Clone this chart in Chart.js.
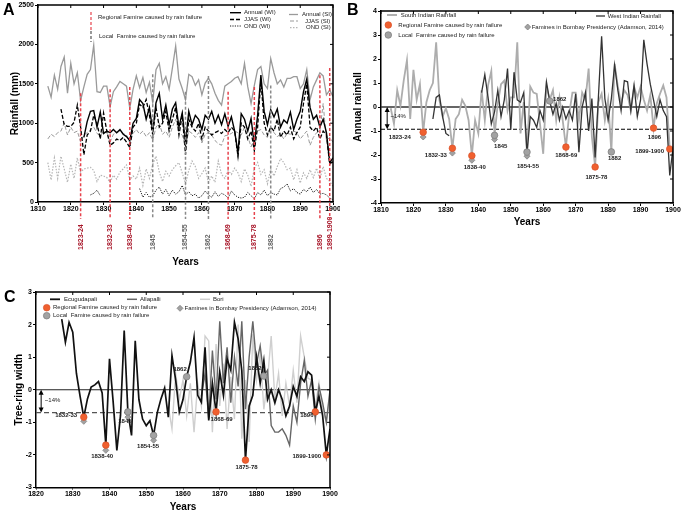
<!DOCTYPE html>
<html>
<head>
<meta charset="utf-8">
<script src="https://cdn.jsdelivr.net/npm/chart.js@4.4.0/dist/chart.umd.min.js"></script>
<style>
  html, body { margin: 0; padding: 0; background: #fff; }
  #wrap { position: relative; width: 685px; height: 514px; overflow: hidden; }
  canvas { position: absolute; }
  #cA { left: 0; top: 0; }
  #cB { left: 340px; top: 0; }
  #cC { left: 0; top: 285px; }
</style>
</head>
<body>
<div id="wrap">
  <canvas id="cA" width="340" height="285"></canvas>
  <canvas id="cB" width="345" height="285"></canvas>
  <canvas id="cC" width="345" height="229"></canvas>
</div>
<script>
// ---- Panel A: rainfall (mm), one value per year from 1813 to 1900 ----
const firstYearA = 1813;
const annualSI = [
  1470, 1330, 1610, 1430, 1720, 1840, 1380, 1760, 1500, 1640,
  1290, 1460, 1620, 1680, 1990, 1400, 1390, 1470, 1470, 1210,
  1400, 1460, 1530, 1500, 1470, 1190, 1430, 1600, 1450, 1580,
  1390, 1520, 1260, 1680, 1760, 1500, 1590, 1430, 1700, 1980,
  1560, 1440, 1300, 1620, 1590, 1480, 1550, 1360, 1510, 1570,
  1500, 1380, 1290, 1230, 1470, 1500, 1530, 1570, 1590, 1500,
  1760, 1460, 1250, 1480, 1680, 1720, 1500, 1440, 1820, 1640,
  1500, 1550, 1460, 1570, 1570, 1590, 1590, 1440, 1500, 1680,
  1300, 1460, 1550, 1640, 1600, 1360, 1420, 1340
];
const jjasSI = [
  800, 860, 830, 880, 900, 1000, 850, 950, 880, 900,
  760, 850, 880, 920, 950, 870, 840, 900, 880, 760,
  860, 880, 900, 870, 850, 750, 870, 920, 860, 900,
  830, 880, 780, 950, 1000, 860, 900, 820, 950, 1050,
  880, 850, 700, 900, 870, 820, 880, 750, 860, 880,
  850, 780, 740, 720, 840, 850, 870, 900, 880, 850,
  950, 830, 700, 820, 900, 920, 850, 820, 950, 880,
  830, 860, 800, 870, 860, 900, 880, 800, 850, 900,
  720, 820, 880, 900, 1250, 780, 820, 760
];
const ondSI = [
  500, 280, 560, 300, 580, 420, 250, 480, 300, 560,
  380, 420, 430, 440, 400, 260, 340, 330, 310, 250,
  340, 290, 380, 420, 470, 280, 330, 290, 430, 210,
  420, 300, 480, 580, 380, 260, 390, 330, 410, 460,
  500, 370, 230, 400, 520, 450, 300, 360, 430, 250,
  330, 250, 520, 350, 300, 400, 350, 430, 370, 260,
  420, 340, 200, 430, 500, 350, 410, 230, 420, 330,
  450, 550, 500, 410, 430, 280, 410, 240, 370, 300,
  410, 310, 430, 290, 450, 300, 260, 200
];
const annualWI = [
  null, null, null, null, null, null, null, null, null, null, null,
  820, 1020, 1150, 1160, 950, 1140, 870, 900, 880, 920,
  880, 920, 860, 830, 780, 1000, 1060, 1300, 1250, 1050,
  1200, 900, 1260, 1380, 1050, 1230, 980, 1180, 1260, 950,
  1130, 750, 1150, 980, 1100, 1050, 920, 1100, 1050, 1150,
  1000, 1100, 980, 1120, 960, 1080, 900, 620, 1120, 1050,
  900, 1060, 730, 1100, 1610, 1150, 980, 1170, 1080, 1180,
  950, 1040, 1000, 1140, 920, 1050, 1150, 1400, 1560, 1200,
  1050, 1100, 950, 1050, 880, 500, 560
];
const jjasWI = [
  null, null, null, null,
  1180, 980, 960, 960, 1010, 1230, 950, 600, 850, 900,
  1100, 1000, 800, 1130, 900, 720, 750, 800, 780, 820,
  760, 690, 950, 1000, 1240, 1200, 1300, 1100, 850, 1200,
  950, 1000, 1150, 900, 1050, 1200, 850, 1100, 600, 1050,
  950, 900, 1000, 800, 950, 900, 850, 880, 900, 870,
  920, 880, 950, 900, 580, 1000, 950, 800, 900, 650,
  950, 1550, 1000, 850, 950, 900, 1050, 820, 900, 850,
  950, 800, 880, 950, 1250, 1500, 950, 900, 950, 800,
  900, 850, 480, 520
];
const ondWI = [
  null, null, null, null, null, null, null, null, null, null, null, null, null,
  90, 110, 150, 80,
  null, null, null, null, null, null, null, null, null, null, null,
  170, 60, 120, 60, 80, 150, 190, 100, 160, 80,
  150, 100, 130, 210, 90, 130, 80, 100, 50, 80,
  140, 90, 60, 130, 70, 110, 90, 50, 140, 90,
  60, 50, 60, 120, 80, 40, 120, 90, 150, 80,
  120, 100, 90, 170, 190, 230, 140, 170, 120, 100,
  160, 130, 190, 120, 160, 100, 110, 90, 50, 30
];
const yearTicks = [1810, 1820, 1830, 1840, 1850, 1860, 1870, 1880, 1890, 1900];
const rainTicks = [0, 500, 1000, 1500, 2000, 2500];

// famine years marked in panel A (R = regional, L = local)
const famineYearA = [1823, 1832, 1838, 1845, 1855, 1862, 1868, 1876, 1881, 1896, 1899];
const famineTopA = [1380, 1430, 1460, 1620, 1400, 1600, 1400, 1460, 1480, 1610, 1700];
const famineKindA = ['R', 'R', 'R', 'L', 'L', 'L', 'R', 'R', 'L', 'R', 'R'];
const famineLabelA = ['1823-24', '1832-33', '1838-40', '1845', '1854-55', '1862',
  '1868-69', '1875-78', '1882', '1896', '1899-1900'];

// ---- Panel B: standardised annual rainfall, 1813-1900 ----
const firstYearB = 1813;
const southIndian = [
  -0.05, -0.7, 0.7, 0.05, 1.1, 1.95, -0.5, 1.55, 0.3, 0.95,
  -1.05, 0.2, 0.7, 1.0, 2.7, 0.3, -0.4, -0.05, -0.5, -1.72,
  -0.5, -0.3, 0.3, 0.05, -0.55, -2.03, -0.55, -1.1, 0.7, -0.55,
  0.9, 1.5, -1.18, 0.15, 0.95, 1.1, -0.15, 0.4, 0.4, 2.7,
  -1.1, 0.2, -1.88, 0.85, 0.6, 0.55, -0.7, -1.95, 0.85, 0.3,
  0.7, -0.55, 0.4, -0.55, -1.67, -0.3, 0.6, 0.6, -0.55, 0.6,
  0.3, 1.6, -1.25, -2.5, 0.2, 0.55, -0.55, 0.3, -1.87, 1.8,
  0.85, 0.15, 0.7, 0.5, -0.15, 0.85, 0.4, 0.85, 0.3, -0.15,
  0.5, -0.88, 0.15, 0.55, 0.9, 0.4, -1.75, null
];
const westIndian = [
  null, null, null, null, null, null, null, null, null, null, null, null, null,
  -0.5, 0.4, 0.5, -0.4, -1.1, -1.2,
  null, null, null, null, null, null, null, null, null,
  0.6, 1.35, 0.4, -0.7, -0.2, 0.7, -0.4, 0.3, 1.6, -0.95,
  1.45, 0.3, 0.2, 0.6, -1.95, -0.4, -0.55, -0.85, -0.15, -0.55,
  1.05, 0.25, -0.3, 0.15, -0.55, 0.0, -0.5, -0.15, -0.55, 0.55,
  -1.88, 0.0, 0.6, -1.0, 0.35, -2.1, 0.4, 2.95, 0.35, -0.55,
  0.35, 1.75, 0.7, -0.15, 1.1, 1.05, -0.15, 0.9, -0.4, 0.3,
  2.8, 1.8, 0.95, 0.3, -0.4, 0.3, -0.15, -0.4, -2.85, -1.7
];
const rainIndexTicks = [-4, -3, -2, -1, 0, 1, 2, 3, 4];
const droughtLevelB = -0.93;
const regionalYearB = [1823, 1832, 1838, 1867, 1876, 1894, 1899];
const regionalValB = [-1.05, -1.72, -2.03, -1.67, -2.5, -0.88, -1.75];
const localYearB = [1845, 1855, 1862, 1881];
const localValB = [-1.18, -1.88, 0.25, -1.87];
const bombayYearB = [1823, 1832, 1838, 1845, 1855];
const bombayValB = [-1.25, -1.92, -2.22, -1.35, -2.05];
const labelTextB = ['1823-24', '1832-33', '1838-40', '1845', '1854-55', '1862',
  '1868-69', '1875-78', '1882', '1896', '1899-1900'];

// ---- Panel C: tree-ring width indices ----
const firstYearEcu = 1827;
const ecugudapali = [
  2.17, 1.46, 2.07, 1.77, 0.5, -0.2, -0.84, -0.28, 0.08, 0.15,
  0.25, -0.1, -1.7, 0.95, -0.38, -1.86, -0.78, 1.82, -0.68, -1.4,
  1.5, -0.3, -0.9, -1.1, -0.95, -1.4, -0.7, -0.28, 0.05, -0.84,
  1.05, 0.3, -0.68, -0.3, 0.4, 0.85, 1.6, -0.17, -0.38, 1.3,
  -0.94, 0.2, -0.68, 0.55, -0.17, 0.95, 0.6, 2.07, 1.56, 0.59,
  -2.16, -0.5, -0.17, 1.0, 0.2, 0.9, -0.3, 0.0, -0.4, 0.0,
  -0.3, -0.8, -0.5, 0.1, -0.2, 0.4, 0.25, 0.55, 0.45, -0.68,
  -0.2, -0.8, -2.0, -1.2
];
const firstYearAll = 1865;
const allapalli = [
  -0.2, 0.5, -0.9, 1.2, -0.3, 2.1, 0.2, 1.3, -0.4, 1.0,
  0.1, 2.1, -0.6, 1.0, 2.1, 0.8, 1.35, 0.42, 0.6, -1.1,
  -1.3, -1.3, -1.2, -1.4, -1.7, -0.5, -1.0, 0.2, 0.9, -0.2,
  0.3, -0.9, 0.1, -0.4, -1.0, 0.0
];
const firstYearBori = 1856;
const bori = [
  -0.5, -1.2, 0.5, -0.3, 0.3, -0.8, 0.2, -1.3, 0.2, -0.5,
  1.65, 1.5, -1.3, 1.4, -0.5, 0.8, -1.2, 0.4, -0.9, 2.0,
  -1.5, 0.3, -1.6, 1.7, 0.3, 1.1, -0.6, 0.3, 1.65, -0.3,
  0.5, -0.8, 0.2, -0.5, 0.6, -0.4, 1.65, 1.0, 0.35, 0.3,
  -0.5, 0.2, -0.6, -1.0, -0.1
];
const yearTicksC = [1820, 1830, 1840, 1850, 1860, 1870, 1880, 1890, 1900];
const ringTicks = [-3, -2, -1, 0, 1, 2, 3];
const droughtLevelC = -0.7;
const regionalYearC = [1833, 1839, 1869, 1877, 1896, 1899];
const regionalValC = [-0.84, -1.7, -0.68, -2.16, -0.68, -2.0];
const localYearC = [1845, 1852, 1861, 1882];
const localValC = [-0.68, -1.4, 0.4, 0.42];
const bombayYearC = [1833, 1839, 1845, 1852];
const bombayValC = [-0.97, -1.86, -0.84, -1.55];
const labelTextC = ['1832-33', '1838-40', '1845', '1854-55', '1862', '1868-69',
  '1875-78', '1882', '1896', '1899-1900'];

// label anchors (data units) for the famine captions
const labelPosB = [[1815.8, -1.26], [1826.9, -2.0], [1838.9, -2.5], [1846.9, -1.64], [1855.3, -2.47],
  [1865.1, 0.31], [1867.1, -2.03], [1876.4, -2.92], [1882, -2.15], [1894.3, -1.25], [1892.8, -1.86]];
const labelPosC = [[1828.2, -0.8], [1838.0, -2.05], [1844.2, -0.98], [1850.5, -1.74], [1859.2, 0.64],
  [1870.5, -0.91], [1877.3, -2.39], [1879.6, 0.67], [1893.7, -0.79], [1893.7, -2.03]];

const FONT_N = "'Liberation Sans Narrow', 'Liberation Sans', Arial, sans-serif";
const FONT_S = "'Liberation Sans', Arial, sans-serif";
const ORANGE = '#f0602f';
const ORANGE_EDGE = '#d9502a';
const GREY_FILL = '#a2a2a2';
const GREY_EDGE = '#7a7a7a';

function series(start, values) {
  return values.map((v, i) => ({ x: start + i, y: v }));
}
function pairs(xs, ys) {
  return xs.map((x, i) => ({ x, y: ys[i] }));
}
function lineSet(start, values, color, width, dash, order) {
  return {
    data: series(start, values), borderColor: color, borderWidth: width,
    borderDash: dash || [], pointRadius: 0, tension: 0, spanGaps: false,
    fill: false, order
  };
}
function markerSet(xs, ys, kind, order) {
  const isReg = kind === 'regional';
  return {
    data: pairs(xs, ys), showLine: false,
    pointStyle: kind === 'diamond' ? 'rectRot' : 'circle',
    pointRadius: kind === 'diamond' ? 3 : 3.3,
    pointBackgroundColor: isReg ? ORANGE : GREY_FILL,
    pointBorderColor: isReg ? ORANGE_EDGE : GREY_EDGE,
    pointBorderWidth: 0.7, order
  };
}

function buildOptions(o) {
  const tickFont = { family: FONT_N, size: 7, weight: 'bold' };
  const titleFont = { family: FONT_N, size: 10, weight: 'bold' };
  return {
    responsive: false, animation: false, events: [],
    layout: { padding: o.padding },
    plugins: { legend: { display: false }, tooltip: { enabled: false } },
    scales: {
      x: {
        type: 'linear', min: o.xTicks[0], max: o.xTicks[o.xTicks.length - 1],
        afterBuildTicks: s => { s.ticks = o.xTicks.map(v => ({ value: v })); },
        afterFit: s => { s.height = o.xHeight; s.paddingLeft = 0; s.paddingRight = 0; },
        ticks: { font: tickFont, color: '#000', padding: 0, maxRotation: 0, autoSkip: false, callback: v => String(v) },
        grid: { drawOnChartArea: false, tickLength: o.tickLen || 3, color: '#000' },
        border: { color: '#000', width: 1.5 },
        title: { display: true, text: 'Years', color: '#000', font: titleFont, padding: { top: 0, bottom: o.xTitlePad } }
      },
      y: {
        type: 'linear', min: o.yTicks[0], max: o.yTicks[o.yTicks.length - 1],
        afterBuildTicks: s => { s.ticks = o.yTicks.map(v => ({ value: v })); },
        afterFit: s => { s.width = o.yWidth; s.paddingTop = 0; s.paddingBottom = 0; },
        ticks: { font: tickFont, color: '#000', padding: 1, autoSkip: false, callback: v => String(v) },
        grid: { drawOnChartArea: false, tickLength: 3, color: '#000' },
        border: { color: '#000', width: 1.5 },
        title: { display: true, text: o.yTitle, color: '#000', font: titleFont, padding: { top: o.yTitlePad, bottom: 0 } }
      }
    }
  };
}

// top and right edges of the box, ticks pointing inward
function drawFrame(chart) {
  const { ctx, chartArea: a, scales: { x, y } } = chart;
  ctx.save();
  ctx.strokeStyle = '#000';
  ctx.lineWidth = 1.5;
  ctx.beginPath();
  ctx.moveTo(a.left, a.top); ctx.lineTo(a.right, a.top); ctx.lineTo(a.right, a.bottom);
  ctx.stroke();
  ctx.lineWidth = 1;
  ctx.beginPath();
  x.ticks.forEach(t => { const px = x.getPixelForValue(t.value); ctx.moveTo(px, a.top); ctx.lineTo(px, a.top + 3); });
  y.ticks.forEach(t => { const py = y.getPixelForValue(t.value); ctx.moveTo(a.right, py); ctx.lineTo(a.right - 3, py); });
  ctx.stroke();
  ctx.restore();
}
function text(ctx, str, x, y, opts) {
  const o = opts || {};
  ctx.save();
  ctx.font = `${o.bold ? 'bold ' : ''}${o.size || 6}px ${o.family || FONT_N}`;
  ctx.fillStyle = o.color || '#222';
  ctx.textAlign = o.align || 'left';
  ctx.textBaseline = 'middle';
  ctx.fillText(str, x, y);
  ctx.restore();
}
function letter(ctx, ch, x, y) {
  ctx.save();
  ctx.font = `bold 16px ${FONT_S}`;
  ctx.fillStyle = '#000';
  ctx.textBaseline = 'alphabetic';
  ctx.fillText(ch, x, y);
  ctx.restore();
}
function sampleLine(ctx, x1, x2, y, color, width, dash) {
  ctx.save();
  ctx.strokeStyle = color; ctx.lineWidth = width; ctx.setLineDash(dash || []);
  ctx.beginPath(); ctx.moveTo(x1, y); ctx.lineTo(x2, y); ctx.stroke();
  ctx.restore();
}
function mark(ctx, x, y, kind) {
  ctx.save();
  ctx.beginPath();
  if (kind === 'diamond') {
    ctx.moveTo(x, y - 3); ctx.lineTo(x + 3, y); ctx.lineTo(x, y + 3); ctx.lineTo(x - 3, y); ctx.closePath();
  } else {
    ctx.arc(x, y, 3.3, 0, Math.PI * 2);
  }
  ctx.fillStyle = kind === 'regional' ? ORANGE : GREY_FILL;
  ctx.strokeStyle = kind === 'regional' ? ORANGE_EDGE : GREY_EDGE;
  ctx.lineWidth = 0.7;
  ctx.fill(); ctx.stroke();
  ctx.restore();
}
function hLine(chart, value, color, width, dash) {
  const { ctx, chartArea: a, scales: { y } } = chart;
  const py = y.getPixelForValue(value);
  ctx.save();
  ctx.strokeStyle = color; ctx.lineWidth = width; ctx.setLineDash(dash || []);
  ctx.beginPath(); ctx.moveTo(a.left, py); ctx.lineTo(a.right, py); ctx.stroke();
  ctx.restore();
}
function arrow(ctx, x, yTop, yBot) {
  ctx.save();
  ctx.strokeStyle = '#000'; ctx.fillStyle = '#000'; ctx.lineWidth = 1;
  ctx.beginPath(); ctx.moveTo(x, yTop + 3); ctx.lineTo(x, yBot - 3); ctx.stroke();
  ctx.beginPath(); ctx.moveTo(x, yTop); ctx.lineTo(x - 2.5, yTop + 5); ctx.lineTo(x + 2.5, yTop + 5); ctx.closePath(); ctx.fill();
  ctx.beginPath(); ctx.moveTo(x, yBot); ctx.lineTo(x - 2.5, yBot - 5); ctx.lineTo(x + 2.5, yBot - 5); ctx.closePath(); ctx.fill();
  ctx.restore();
}
function captions(chart, texts, pos) {
  const { ctx, scales: { x, y } } = chart;
  texts.forEach((t, i) => {
    text(ctx, t, x.getPixelForValue(pos[i][0]), y.getPixelForValue(pos[i][1]), { bold: true, size: 6, align: 'center', color: '#222' });
  });
}

// ---------- Panel A ----------
const panelA = {
  id: 'panelA',
  afterDatasetsDraw(chart) {
    const { ctx, chartArea: a, scales: { x, y } } = chart;
    drawFrame(chart);
    famineYearA.forEach((yr, i) => {
      const px = x.getPixelForValue(yr);
      const regional = famineKindA[i] === 'R';
      ctx.save();
      ctx.strokeStyle = regional ? '#e6434d' : '#8a8a8a';
      ctx.lineWidth = 1.5;
      ctx.setLineDash([3, 2]);
      ctx.beginPath();
      ctx.moveTo(px, y.getPixelForValue(famineTopA[i]));
      ctx.lineTo(px, a.bottom + 17);
      ctx.stroke();
      ctx.restore();
      ctx.save();
      ctx.translate(px, a.bottom + 48);
      ctx.rotate(-Math.PI / 2);
      ctx.font = `bold 7px ${FONT_N}`;
      ctx.fillStyle = regional ? '#a8172a' : '#666';
      ctx.textAlign = 'left';
      ctx.textBaseline = 'middle';
      ctx.fillText(famineLabelA[i], 0, 0);
      ctx.restore();
    });
    letter(ctx, 'A', 3, 15);
    // famine legend
    ctx.save();
    ctx.lineWidth = 1.2; ctx.setLineDash([3, 2]);
    ctx.strokeStyle = '#e6434d';
    ctx.beginPath(); ctx.moveTo(91, 12); ctx.lineTo(91, 31); ctx.stroke();
    ctx.strokeStyle = '#555';
    ctx.beginPath(); ctx.moveTo(91, 31); ctx.lineTo(91, 42); ctx.stroke();
    ctx.restore();
    text(ctx, 'Regional Famine caused by rain failure', 98, 17);
    text(ctx, 'Local  Famine caused by rain failure', 99, 36);
    // series legend
    sampleLine(ctx, 230, 241, 12.7, '#000', 1.4);
    sampleLine(ctx, 230, 241, 19.5, '#000', 1.3, [4, 2]);
    sampleLine(ctx, 230, 241, 26, '#000', 0.9, [1.2, 1.2]);
    text(ctx, 'Annual (WI)', 244, 12.7);
    text(ctx, 'JJAS (WI)', 244, 19.5);
    text(ctx, 'OND (WI)', 244, 26);
    sampleLine(ctx, 289, 298, 14.5, '#9a9a9a', 1.3);
    sampleLine(ctx, 290, 298, 21, '#9a9a9a', 1, [4, 2]);
    sampleLine(ctx, 290, 298, 27.7, '#b5b5b5', 1.2, [1.5, 1.5]);
    text(ctx, 'Annual (SI)', 302, 14.5);
    text(ctx, 'JJAS (SI)', 305, 21);
    text(ctx, 'OND (SI)', 306, 27.7);
  }
};

new Chart(document.getElementById('cA'), {
  type: 'line',
  data: {
    datasets: [
      lineSet(firstYearA, annualWI, '#000', 1.4, null, 3),
      lineSet(firstYearA, jjasWI, '#000', 1.3, [4, 2], 4),
      lineSet(firstYearA, ondWI, '#000', 0.9, [1.2, 1.2], 5),
      lineSet(firstYearA, annualSI, '#9a9a9a', 1.3, null, 8),
      lineSet(firstYearA, jjasSI, '#9a9a9a', 1, [4, 2], 9),
      lineSet(firstYearA, ondSI, '#b5b5b5', 1.2, [1.5, 1.5], 10)
    ]
  },
  options: buildOptions({
    padding: { left: 0, top: 5, right: 7, bottom: 0 },
    xTicks: yearTicks, yTicks: rainTicks, xHeight: 83, yWidth: 38,
    xTitlePad: 17, yTitle: 'Rainfall (mm)', yTitlePad: 9
  }),
  plugins: [panelA]
});

// ---------- Panel B ----------
const panelB = {
  id: 'panelB',
  beforeDatasetsDraw(chart) {
    hLine(chart, 0, '#333', 1.4);
    hLine(chart, droughtLevelB, '#000', 1.1, [4, 2]);
  },
  afterDatasetsDraw(chart) {
    const { ctx, scales: { x, y } } = chart;
    drawFrame(chart);
    arrow(ctx, x.getPixelForValue(1811.9), y.getPixelForValue(0), y.getPixelForValue(droughtLevelB));
    text(ctx, '~14%', x.getPixelForValue(1812.9), y.getPixelForValue(-0.4), { size: 6 });
    captions(chart, labelTextB, labelPosB);
    letter(ctx, 'B', 7, 15);
    sampleLine(ctx, 47, 57, 15, '#a8a8a8', 1.8);
    text(ctx, 'South Indian Rainfall', 60.7, 15);
    mark(ctx, 48.3, 25, 'regional');
    text(ctx, 'Regional Famine caused by rain failure', 58.3, 25);
    mark(ctx, 48.3, 35, 'local');
    text(ctx, 'Local  Famine caused by rain failure', 58.3, 35);
    sampleLine(ctx, 256, 265, 16, '#333', 1.3);
    text(ctx, 'West Indian Rainfall', 267.7, 16);
    mark(ctx, 187.7, 27, 'diamond');
    text(ctx, 'Famines in Bombay Presidency (Adamson, 2014)', 191.7, 27);
  }
};

new Chart(document.getElementById('cB'), {
  type: 'line',
  data: {
    datasets: [
      markerSet(regionalYearB, regionalValB, 'regional', 0),
      markerSet(localYearB, localValB, 'local', 1),
      markerSet(bombayYearB, bombayValB, 'diamond', 2),
      lineSet(firstYearB, westIndian, '#333', 1.3, null, 5),
      lineSet(firstYearB, southIndian, '#adadad', 1.8, null, 8)
    ]
  },
  options: buildOptions({
    padding: { left: 0, top: 11, right: 12, bottom: 0 },
    xTicks: yearTicks, yTicks: rainIndexTicks, xHeight: 82, yWidth: 41,
    xTitlePad: 57, yTitle: 'Annual rainfall', yTitlePad: 12
  }),
  plugins: [panelB]
});

// ---------- Panel C ----------
const panelC = {
  id: 'panelC',
  beforeDatasetsDraw(chart) {
    hLine(chart, 0, '#222', 1.2);
    hLine(chart, droughtLevelC, '#555', 1.2, [5, 3]);
  },
  afterDatasetsDraw(chart) {
    const { ctx, scales: { x, y } } = chart;
    drawFrame(chart);
    arrow(ctx, x.getPixelForValue(1821.4), y.getPixelForValue(0), y.getPixelForValue(droughtLevelC));
    text(ctx, '~14%', x.getPixelForValue(1822.4), y.getPixelForValue(-0.32), { size: 6 });
    captions(chart, labelTextC, labelPosC);
    letter(ctx, 'C', 4, 17);
    sampleLine(ctx, 50, 60, 14.3, '#111', 1.8);
    text(ctx, 'Ecugudapali', 64, 14.3);
    sampleLine(ctx, 127, 137, 14.3, '#666', 1.5);
    text(ctx, 'Allapalli', 140, 14.3);
    sampleLine(ctx, 200, 210, 14.3, '#cfcfcf', 1.5);
    text(ctx, 'Bori', 213, 14.3);
    mark(ctx, 46.7, 22.7, 'regional');
    text(ctx, 'Regional Famine caused by rain failure', 53, 22.7);
    mark(ctx, 46.7, 30.7, 'local');
    text(ctx, 'Local  Famine caused by rain failure', 53, 30.7);
    mark(ctx, 180, 23.3, 'diamond');
    text(ctx, 'Famines in Bombay Presidency (Adamson, 2014)', 184.5, 23.3);
  }
};

new Chart(document.getElementById('cC'), {
  type: 'line',
  data: {
    datasets: [
      markerSet(regionalYearC, regionalValC, 'regional', 0),
      markerSet(localYearC, localValC, 'local', 1),
      markerSet(bombayYearC, bombayValC, 'diamond', 2),
      lineSet(firstYearEcu, ecugudapali, '#111', 1.7, null, 4),
      lineSet(firstYearAll, allapalli, '#666', 1.4, null, 6),
      lineSet(firstYearBori, bori, '#cfcfcf', 1.4, null, 8)
    ]
  },
  options: buildOptions({
    padding: { left: 0, top: 7, right: 15, bottom: 0 },
    xTicks: yearTicksC, yTicks: ringTicks, xHeight: 26.5, yWidth: 36,
    xTitlePad: 1, yTitle: 'Tree-ring width', yTitlePad: 13.5, tickLen: 2
  }),
  plugins: [panelC]
});
</script>
</body>
</html>
